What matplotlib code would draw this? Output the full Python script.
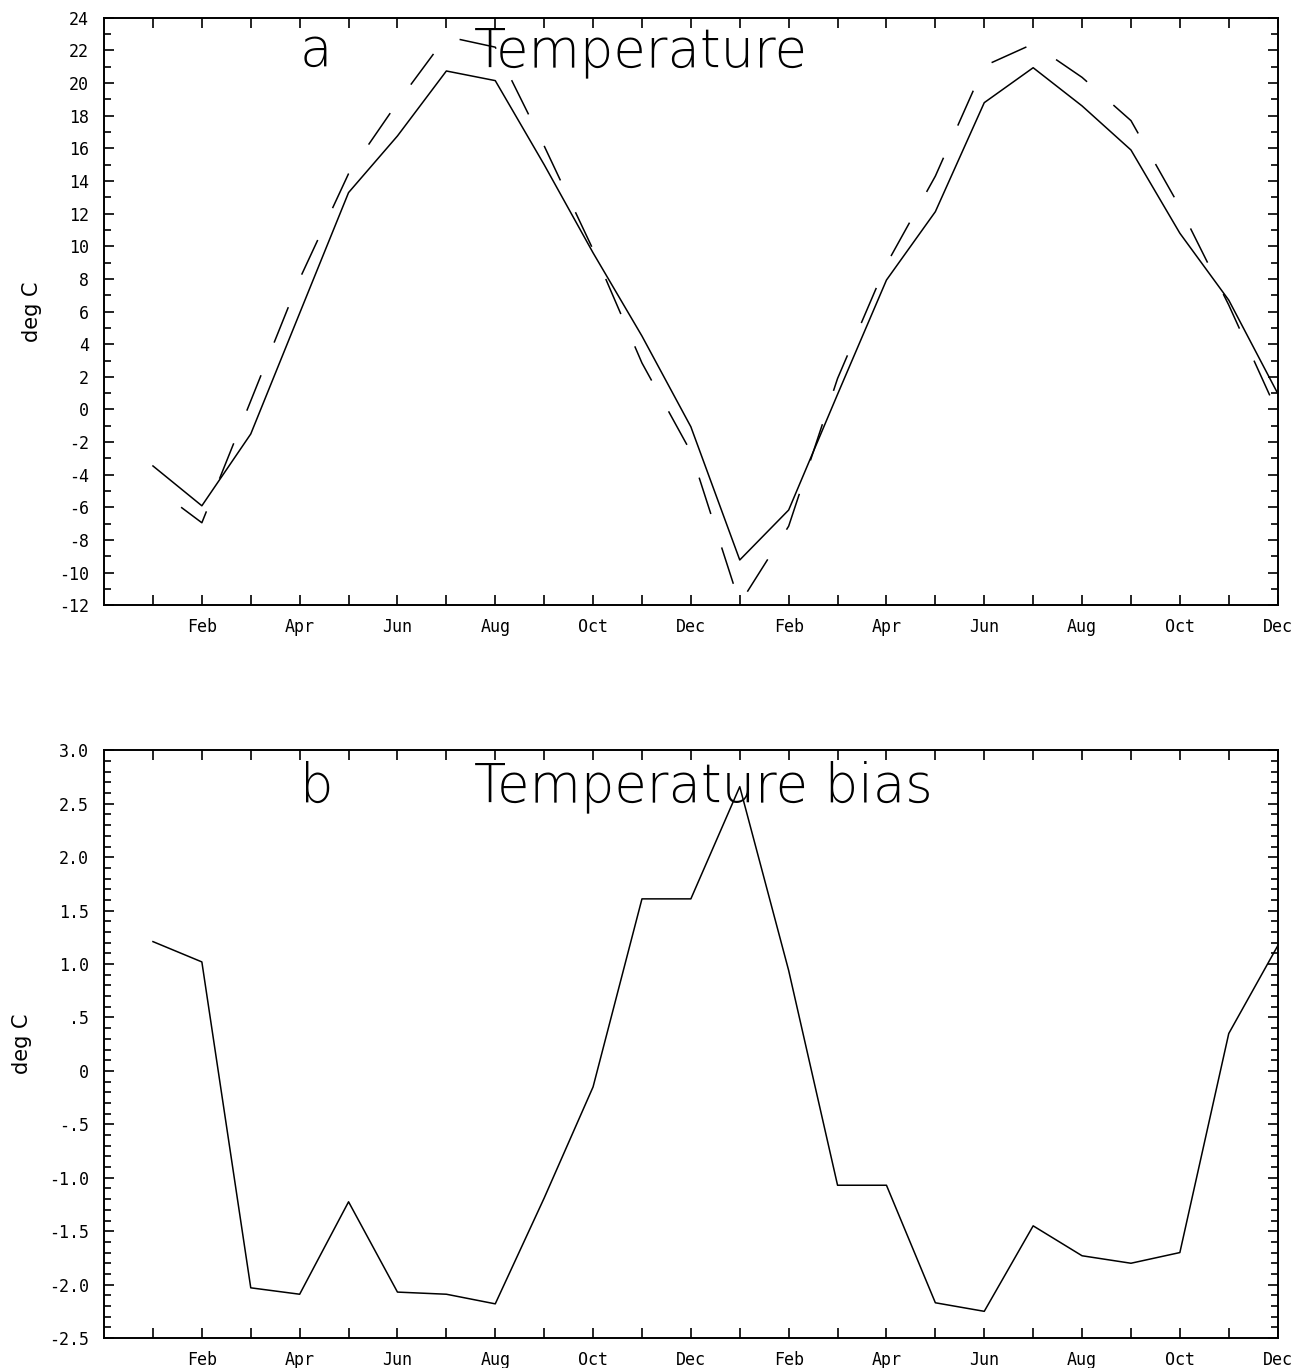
import numpy as np
import matplotlib
matplotlib.use('Agg')
import matplotlib.pyplot as plt
from matplotlib.ticker import MultipleLocator, FixedLocator, FuncFormatter

plt.rcParams['font.family'] = 'DejaVu Sans Mono'
plt.rcParams['axes.unicode_minus'] = False

# two years of monthly values, Jan..Dec twice
months = np.arange(1, 25)
month_names = ['Jan', 'Feb', 'Mar', 'Apr', 'May', 'Jun',
               'Jul', 'Aug', 'Sep', 'Oct', 'Nov', 'Dec'] * 2
month_labels = [n if m % 2 == 0 else '' for m, n in zip(months, month_names)]

# panel a: solid and dashed temperature curves (deg C)
temp_solid = [-3.46, -5.9, -1.5, 5.9, 13.29, 16.76, 20.74, 20.15, 15.0, 9.6, 4.5, -1.06,
              -9.22, -6.16, 0.93, 7.93, 12.12, 18.8, 20.94, 18.6, 15.9, 10.8, 6.7, 0.99]
temp_dashed = [-4.7, -6.94, 0.53, 8.0, 14.45, 18.8, 22.85, 22.2, 16.15, 9.8, 2.85, -2.6,
               -11.9, -7.15, 1.9, 8.9, 14.3, 21.05, 22.4, 20.35, 17.7, 12.4, 6.4, -0.2]

# panel b: temperature bias (deg C)
temp_bias = [1.21, 1.02, -2.03, -2.09, -1.225, -2.07, -2.09, -2.18, -1.19, -0.15, 1.61, 1.61,
             2.66, 0.94, -1.07, -1.07, -2.17, -2.25, -1.45, -1.73, -1.80, -1.70, 0.35, 1.17]


def bias_fmt(v, pos):
    if abs(v) < 1e-9:
        return '0'
    s = '%.1f' % v
    if s.startswith('0.'):
        s = s[1:]
    elif s.startswith('-0.'):
        s = '-' + s[2:]
    return s


def style_axes(ax):
    ax.set_xlim(0, 24)
    ax.xaxis.set_major_locator(FixedLocator(months))
    ax.set_xticklabels(month_labels)
    ax.tick_params(axis='both', which='both', direction='in', top=True, right=True,
                   width=1.2, labelsize=12)
    ax.tick_params(axis='x', which='major', length=7, pad=9)
    ax.tick_params(axis='y', which='major', length=7, pad=11)
    ax.tick_params(axis='y', which='minor', length=5)
    for sp in ax.spines.values():
        sp.set_linewidth(1.4)
    ax.set_ylabel('deg C', family='DejaVu Sans', fontsize=15, labelpad=12)


fig = plt.figure(figsize=(13.04, 13.68), dpi=100)

ax1 = fig.add_axes([0.0798, 0.5575, 0.9, 0.4295])
ax1.plot(months, temp_solid, color='black', lw=1.1)
ax1.plot(months, temp_dashed, color='black', lw=1.1, linestyle=(25, (25, 23)))
ax1.set_ylim(-12, 24)
ax1.yaxis.set_major_locator(MultipleLocator(2))
ax1.yaxis.set_minor_locator(MultipleLocator(1))
style_axes(ax1)
ax1.text(0.167, 0.918, 'a', transform=ax1.transAxes, family='DejaVu Sans',
         fontsize=38, fontweight='light')
ax1.text(0.315, 0.918, 'Temperature', transform=ax1.transAxes, family='DejaVu Sans',
         fontsize=38, fontweight='light')

ax2 = fig.add_axes([0.0798, 0.0219, 0.9, 0.4296])
ax2.plot(months, temp_bias, color='black', lw=1.1)
ax2.set_ylim(-2.5, 3.0)
ax2.yaxis.set_major_locator(MultipleLocator(0.5))
ax2.yaxis.set_minor_locator(MultipleLocator(0.1))
ax2.yaxis.set_major_formatter(FuncFormatter(bias_fmt))
style_axes(ax2)
ax2.text(0.167, 0.913, 'b', transform=ax2.transAxes, family='DejaVu Sans',
         fontsize=38, fontweight='light')
ax2.text(0.315, 0.913, 'Temperature bias', transform=ax2.transAxes, family='DejaVu Sans',
         fontsize=38, fontweight='light')

fig.savefig('out.png', dpi=100)
